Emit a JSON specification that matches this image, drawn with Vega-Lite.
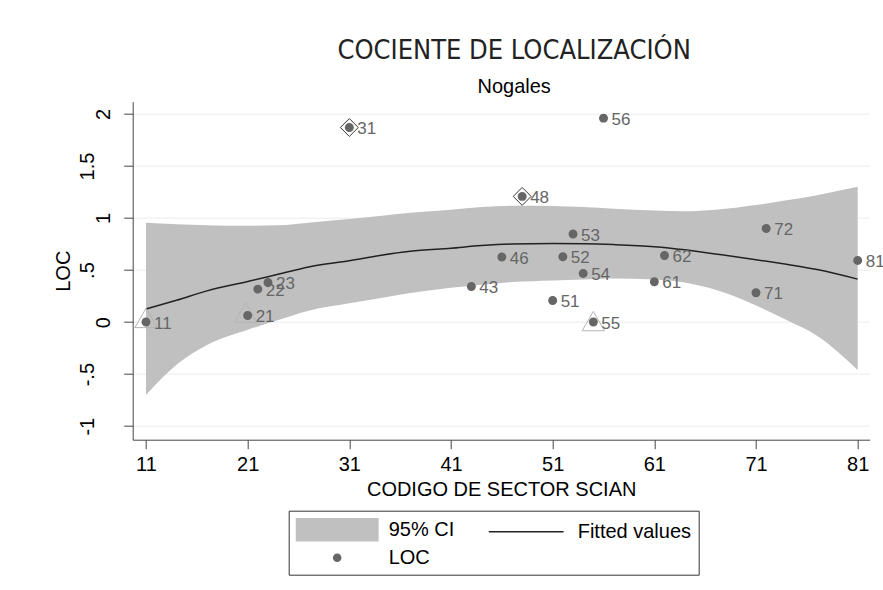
{
  "$schema": "https://vega.github.io/schema/vega-lite/v6.json",
  "width": 737,
  "height": 338,
  "autosize": {"type": "none"},
  "padding": {"left": 132.7, "top": 101.7, "right": 13, "bottom": 150},
  "background": "white",
  "config": {"view": {"stroke": null}, "font": "Liberation Sans"},
  "title": {
    "text": "COCIENTE DE LOCALIZACIÓN",
    "subtitle": "Nogales",
    "font": "Liberation Sans Narrow, DejaVu Sans Condensed, Liberation Sans",
    "fontSize": 27,
    "fontWeight": "normal",
    "color": "#222222",
    "subtitleFont": "Liberation Sans",
    "subtitleFontSize": 20,
    "subtitleColor": "#000000",
    "subtitlePadding": 12,
    "offset": 4,
    "dx": 13,
    "anchor": "middle"
  },
  "datasets": {
    "pts": [
      {"code": 11, "loc": 0.0, "label": "11"},
      {"code": 21, "loc": 0.063, "label": "21"},
      {"code": 22, "loc": 0.317, "label": "22"},
      {"code": 23, "loc": 0.38, "label": "23"},
      {"code": 31, "loc": 1.87, "label": "31"},
      {"code": 43, "loc": 0.342, "label": "43"},
      {"code": 46, "loc": 0.625, "label": "46"},
      {"code": 48, "loc": 1.208, "label": "48"},
      {"code": 51, "loc": 0.208, "label": "51"},
      {"code": 52, "loc": 0.628, "label": "52"},
      {"code": 53, "loc": 0.846, "label": "53"},
      {"code": 54, "loc": 0.467, "label": "54"},
      {"code": 55, "loc": 0.0, "label": "55"},
      {"code": 56, "loc": 1.96, "label": "56"},
      {"code": 61, "loc": 0.388, "label": "61"},
      {"code": 62, "loc": 0.64, "label": "62"},
      {"code": 71, "loc": 0.282, "label": "71"},
      {"code": 72, "loc": 0.9, "label": "72"},
      {"code": 81, "loc": 0.592, "label": "81"}
    ],
    "fit": [
      {"code": 11, "lo": -0.70, "hi": 0.955, "fit": 0.125},
      {"code": 14, "lo": -0.41, "hi": 0.94, "fit": 0.21},
      {"code": 17, "lo": -0.22, "hi": 0.93, "fit": 0.30},
      {"code": 21, "lo": -0.074, "hi": 0.925, "fit": 0.39},
      {"code": 24, "lo": 0.02, "hi": 0.93, "fit": 0.46},
      {"code": 27, "lo": 0.11, "hi": 0.955, "fit": 0.53},
      {"code": 31, "lo": 0.18, "hi": 0.99, "fit": 0.59},
      {"code": 34, "lo": 0.23, "hi": 1.02, "fit": 0.64},
      {"code": 37, "lo": 0.28, "hi": 1.05, "fit": 0.68},
      {"code": 41, "lo": 0.33, "hi": 1.08, "fit": 0.71},
      {"code": 44, "lo": 0.36, "hi": 1.105, "fit": 0.735},
      {"code": 47, "lo": 0.385, "hi": 1.118, "fit": 0.75},
      {"code": 51, "lo": 0.40, "hi": 1.115, "fit": 0.755},
      {"code": 54, "lo": 0.41, "hi": 1.105, "fit": 0.753},
      {"code": 57, "lo": 0.42, "hi": 1.09, "fit": 0.745},
      {"code": 61, "lo": 0.41, "hi": 1.072, "fit": 0.725},
      {"code": 64, "lo": 0.38, "hi": 1.065, "fit": 0.695},
      {"code": 67, "lo": 0.31, "hi": 1.08, "fit": 0.655},
      {"code": 71, "lo": 0.16, "hi": 1.125, "fit": 0.60},
      {"code": 74, "lo": 0.02, "hi": 1.17, "fit": 0.555},
      {"code": 77, "lo": -0.13, "hi": 1.22, "fit": 0.505},
      {"code": 81, "lo": -0.46, "hi": 1.30, "fit": 0.413}
    ],
    "diamonds": [
      {"code": 31, "loc": 1.87},
      {"code": 48, "loc": 1.208}
    ],
    "triangles": [
      {"code": 11, "loc": 0.04},
      {"code": 20.8, "loc": 0.092},
      {"code": 55, "loc": 0.01}
    ]
  },
  "layer": [
    {
      "data": {"name": "fit"},
      "mark": {"type": "area", "interpolate": "monotone", "opacity": 1},
      "encoding": {
        "x": {
          "field": "code", "type": "quantitative", "title": "CODIGO DE SECTOR SCIAN",
          "scale": {"domain": [9.692, 82.18], "nice": false, "zero": false},
          "axis": {
            "values": [11, 21, 31, 41, 51, 61, 71, 81],
            "grid": false,
            "labelFontSize": 20, "labelColor": "#000000", "labelPadding": 6,
            "tickSize": 9, "tickColor": "#444444", "domainColor": "#444444",
            "titleFontSize": 20, "titleFontWeight": "normal", "titleColor": "#000000", "titlePadding": 5
          }
        },
        "y": {
          "field": "lo", "type": "quantitative", "title": "LOC",
          "scale": {"domain": [-1.13, 2.118], "nice": false, "zero": false},
          "axis": {
            "values": [-1, -0.5, 0, 0.5, 1, 1.5, 2],
            "labelExpr": "replace(replace(format(datum.value, '~g'), '0.', '.'), '−', '-')",
            "labelAngle": -90, "labelAlign": "center", "labelBaseline": "bottom",
            "labelFontSize": 20, "labelColor": "#000000",
            "labelPadding": {"condition": {"test": "datum.value < 0 || datum.value != round(datum.value)", "value": 26}, "value": 10},
            "tickSize": 9, "tickColor": "#444444", "domainColor": "#444444",
            "grid": true, "gridColor": "#ececec",
            "titleFontSize": 20, "titleFontWeight": "normal", "titleColor": "#000000", "titlePadding": 4
          }
        },
        "y2": {"field": "hi"},
        "color": {
          "datum": "95% CI",
          "scale": {"domain": ["95% CI", "Fitted values", "LOC"], "range": ["#c0c0c0", "transparent", "#666666"]},
          "legend": {
            "title": null,
            "orient": "none", "legendX": 156, "legendY": 409,
            "columns": 2, "direction": "horizontal",
            "strokeColor": "#333333", "fillColor": "white", "padding": 7,
            "labelFont": "Liberation Sans", "labelFontSize": 20, "labelColor": "#000000",
            "symbolSize": 484, "symbolStrokeWidth": 1.5, "symbolOpacity": 1, "symbolOffset": 29.5, "labelOffset": 39.5,
            "rowPadding": 2, "columnPadding": 30
          }
        }
      }
    },
    {
      "mark": {"type": "rule", "color": "#333333", "strokeWidth": 1.5, "strokeDash": [22, 5, 3, 5]},
      "encoding": {"y": {"datum": 1}}
    },
    {
      "data": {"name": "fit"},
      "mark": {"type": "line", "interpolate": "monotone", "strokeWidth": 1.5},
      "encoding": {
        "x": {"field": "code", "type": "quantitative", "title": "CODIGO DE SECTOR SCIAN"},
        "y": {"field": "fit", "type": "quantitative", "title": "LOC"},
        "stroke": {
          "datum": "Fitted values",
          "scale": {"domain": ["95% CI", "Fitted values", "LOC"], "range": ["#c0c0c0", "#222222", "#666666"]},
          "legend": {
            "title": null,
            "orient": "none", "legendX": 156, "legendY": 409,
            "columns": 2, "direction": "horizontal",
            "strokeColor": "#333333", "fillColor": "white", "padding": 7,
            "labelFont": "Liberation Sans", "labelFontSize": 20, "labelColor": "#000000",
            "symbolSize": 484, "symbolStrokeWidth": 1.5, "symbolOpacity": 1, "symbolOffset": 29.5, "labelOffset": 39.5,
            "rowPadding": 2, "columnPadding": 30
          }
        }
      }
    },
    {
      "data": {"name": "triangles"},
      "mark": {"type": "point", "shape": "triangle-up", "size": 500, "filled": false, "color": "#b4b4b4", "strokeWidth": 1, "opacity": 1},
      "encoding": {
        "x": {"field": "code", "type": "quantitative", "title": "CODIGO DE SECTOR SCIAN"},
        "y": {"field": "loc", "type": "quantitative", "title": "LOC"}
      }
    },
    {
      "data": {"name": "diamonds"},
      "mark": {"type": "point", "shape": "diamond", "size": 320, "filled": false, "color": "#333333", "strokeWidth": 1, "opacity": 1},
      "encoding": {
        "x": {"field": "code", "type": "quantitative", "title": "CODIGO DE SECTOR SCIAN"},
        "y": {"field": "loc", "type": "quantitative", "title": "LOC"}
      }
    },
    {
      "data": {"name": "pts"},
      "mark": {"type": "point", "filled": true, "size": 784, "opacity": 1, "strokeWidth": 0},
      "encoding": {
        "x": {"field": "code", "type": "quantitative", "title": "CODIGO DE SECTOR SCIAN"},
        "y": {"field": "loc", "type": "quantitative", "title": "LOC"},
        "color": {"datum": "LOC"},
        "shape": {
          "datum": "LOC",
          "scale": {"domain": ["95% CI", "Fitted values", "LOC"], "range": ["M-3.7,-1H3.7V1H-3.7Z", "M-3.4,0H3.4", "M-0.32,0A0.32,0.32 0 1,0 0.32,0A0.32,0.32 0 1,0 -0.32,0Z"]},
          "legend": {
            "title": null,
            "orient": "none", "legendX": 156, "legendY": 409,
            "columns": 2, "direction": "horizontal",
            "strokeColor": "#333333", "fillColor": "white", "padding": 7,
            "labelFont": "Liberation Sans", "labelFontSize": 20, "labelColor": "#000000",
            "symbolSize": 484, "symbolStrokeWidth": 1.5, "symbolOpacity": 1, "symbolOffset": 29.5, "labelOffset": 39.5,
            "rowPadding": 2, "columnPadding": 30
          }
        }
      }
    },
    {
      "data": {"name": "pts"},
      "mark": {"type": "text", "align": "left", "baseline": "middle", "dx": 8, "dy": 1.5, "fontSize": 17, "color": "#666666"},
      "encoding": {
        "x": {"field": "code", "type": "quantitative", "title": "CODIGO DE SECTOR SCIAN"},
        "y": {"field": "loc", "type": "quantitative", "title": "LOC"},
        "text": {"field": "label"}
      }
    }
  ]
}
